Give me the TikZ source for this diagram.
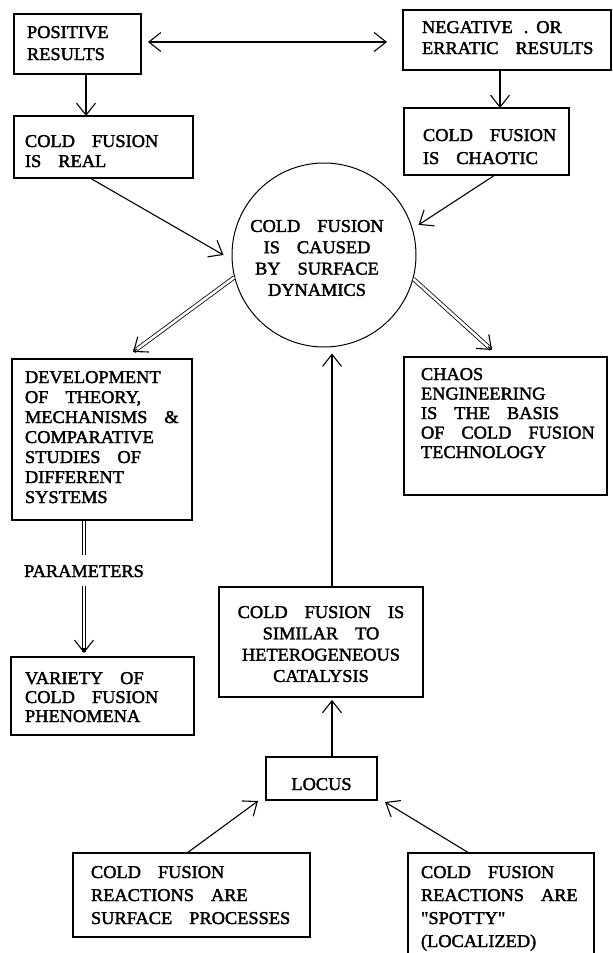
\documentclass[tikz,border=0pt]{standalone}
\usepackage{fontspec}
\setmainfont{Liberation Serif}[FakeStretch=1.02, FakeBold=2]
\newfontfamily\qfont{Liberation Serif}[Ligatures=TeXOff, FakeStretch=1.02, FakeBold=2]
\usetikzlibrary{arrows.meta,calc}
\newcommand{\tstr}[1]{\rule{0pt}{#1pt}}
\newcommand{\bstr}[1]{\rule[-#1pt]{0pt}{#1pt}}
\newcommand{\bxs}[1]{\spaceskip=17pt plus 2pt minus 2pt\relax\leftskip=#1pt\relax}
\newcommand{\dq}{{\qfont"}}
\begin{document}
\begin{tikzpicture}[x=1pt,y=-1pt,
  >={Straight Barb[length=12pt,width=19pt]},
  box/.style={draw, line width=1.2pt, inner sep=0pt, outer sep=0pt, anchor=north west, align=left, font=\fontsize{18}{#1}\selectfont},
  cbox/.style={draw, line width=1.2pt, inner sep=0pt, outer sep=0pt, anchor=north west, align=center, font=\fontsize{18}{#1}\selectfont},
  arr/.style={->, line width=1.1pt},
  dbl/.style={double, double distance=2.6pt, line width=0.8pt},
  lbl/.style={inner sep=0pt, anchor=base, font=\fontsize{18}{20}\selectfont}
]
\path[use as bounding box, fill=white] (0,0) rectangle (613,953);

% boxes
\node[box=22, text width=127pt] (pos) at (14,14) {\bxs{13}\tstr{24}POSITIVE\\RESULTS\bstr{14}\par};
\node[box=21, text width=208pt] (neg) at (403,10) {\bxs{19}\tstr{23}NEGATIVE\hspace{11pt}.\hspace{8pt}OR\\ERRATIC RESULTS\bstr{16}\par};
\node[box=20, text width=179pt] (real) at (14,116) {\bxs{11}\tstr{31}COLD FUSION\\IS REAL\bstr{11}\par};
\node[box=23, text width=165pt] (chaotic) at (404,108) {\bxs{19}\tstr{33}COLD FUSION\\IS CHAOTIC\bstr{11}\par};
\node[circle, draw, line width=1pt, minimum size=184pt, inner sep=0pt, text width=150pt, align=center, font=\fontsize{18}{21.3}\selectfont] (circ) at (324,255)
  {\spaceskip=17pt\relax\leftskip=0pt plus 1fil\rightskip=14pt plus 1fil\relax\tstr{17.9}COLD FUSION\\IS CAUSED\\BY SURFACE\\DYNAMICS\par};
\node[box=20, text width=180pt] (dev) at (12,359) {\bxs{13}\tstr{24}DEVELOPMENT\\OF THEORY,\\MECHANISMS \&\\COMPARATIVE\\STUDIES OF\\DIFFERENT\\SYSTEMS\bstr{17}\par};
\node[box=19.5, text width=203pt] (chaos) at (404,357) {\bxs{17}\tstr{23}CHAOS\\ENGINEERING\\IS THE BASIS\\OF COLD FUSION\\TECHNOLOGY\bstr{37}\par};
\node[lbl] (param) at (84,577) {PARAMETERS};
\node[box=19, text width=183pt] (var) at (11,657) {\bxs{14}\tstr{27}VARIETY OF\\COLD FUSION\\PHENOMENA\bstr{13}\par};
\node[cbox=21.3, text width=204pt] (cat) at (219,587) {\spaceskip=17pt\relax\tstr{31}COLD FUSION IS\\SIMILAR TO\\HETEROGENEOUS\\CATALYSIS\bstr{15}\par};
\node[cbox=20, text width=111pt] (locus) at (266,757) {\tstr{33}LOCUS\bstr{10}\par};
\node[box=23, text width=237pt] (surf) at (73,853) {\bxs{18}\tstr{25}COLD FUSION\\REACTIONS ARE\\SURFACE PROCESSES\bstr{13}\par};
\node[box=23, text width=186pt] (spot) at (408,853) {\bxs{13}\tstr{25}COLD FUSION\\REACTIONS ARE\\\dq SPOTTY\dq\\(LOCALIZED)\bstr{28}\par};

% single arrows
\draw[<->, line width=1.1pt] ($(pos.east)+(7,-2)$) -- ($(neg.west)+(-16,2)$);
\draw[arr] ($(pos.south west)+(72,0)$) -- ($(real.north west)+(72,0)$);
\draw[arr] ($(neg.south west)+(97,0)$) -- ($(chaotic.north west)+(96,0)$);
\draw[arr] ($(real.south west)+(76,0)$) -- ($(circ.west)+(-8,0)$);
\draw[arr] ($(chaotic.south west)+(91,0)$) -- ($(circ.18)+(6.5,-1.5)$);
\draw[arr] ($(cat.north west)+(113,0)$) -- ($(circ.south)+(8,6)$);
\draw[arr] ($(locus.north west)+(66,0)$) -- ($(cat.south west)+(113,3)$);
\draw[arr] ($(surf.north west)+(114,0)$) -- ($(locus.south west)+(-8,1)$);
\draw[arr] ($(spot.north west)+(61,0)$) -- ($(locus.south east)+(8,2)$);

% double arrows
\coordinate (d1s) at (circ.194);
\coordinate (d1t) at ($(dev.north west)+(121,-7)$);
\draw[dbl] (d1s) -- ($(d1t)!1.5pt!(d1s)$);
\draw[arr] ($(d1t)!5pt!(d1s)$) -- (d1t);

\coordinate (d2s) at (circ.-15);
\coordinate (d2t) at ($(chaos.north west)+(88,-7)$);
\draw[dbl] (d2s) -- ($(d2t)!1.5pt!(d2s)$);
\draw[arr] ($(d2t)!5pt!(d2s)$) -- (d2t);

\coordinate (d3t) at ($(var.north -| param.south)+(0,-4)$);
\draw[dbl] ($(dev.south -| param.north)+(0,0.6)$) -- ($(param.north)+(0,-10)$);
\draw[dbl] ($(param.south)+(0,9)$) -- ($(d3t)+(0,-1.5)$);
\draw[arr] ($(d3t)+(0,-5)$) -- (d3t);
\end{tikzpicture}
\end{document}
